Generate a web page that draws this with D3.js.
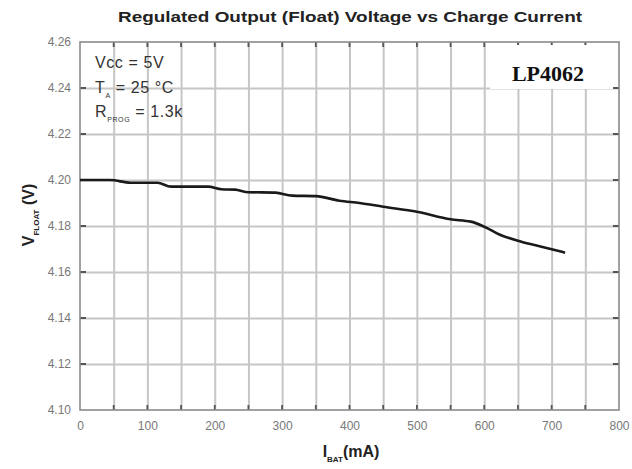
<!doctype html>
<html>
<head>
  <meta charset="utf-8">
  <title>Float Voltage vs Charge Current</title>
  <script src="https://d3js.org/d3.v7.min.js"></script>
  <style>
    body { margin: 0; background: #fff; }
    text { font-family: Arial, "Liberation Sans", sans-serif; }
  </style>
</head>
<body>
  <div id="chart"></div>
  <script>
    // charge current (mA) and float voltage (V)
    var current = [0, 45, 75, 115, 135, 190, 210, 230, 250, 290, 315, 350, 385, 415, 450, 500, 550, 580, 600, 625, 655, 685, 720];
    var vfloat = [4.200, 4.200, 4.1988, 4.1988, 4.1971, 4.1971, 4.1960, 4.1958, 4.1947, 4.1945, 4.1932, 4.1930, 4.1910, 4.1900, 4.1884, 4.1862, 4.1829, 4.1819, 4.1797, 4.1760, 4.1732, 4.1710, 4.1684];
    var xTicks = [0, 100, 200, 300, 400, 500, 600, 700, 800];
    var xGrid = [50, 100, 150, 200, 250, 300, 350, 400, 450, 500, 550, 600, 650, 700, 750];
    var yTicks = [4.10, 4.12, 4.14, 4.16, 4.18, 4.20, 4.22, 4.24, 4.26];

    var W = 632, H = 469;
    var margin = { top: 42, right: 13, bottom: 59, left: 80 },
      width = W - margin.left - margin.right,
      height = H - margin.top - margin.bottom;

    var svg = d3.select("#chart")
      .append("svg")
      .attr("width", W)
      .attr("height", H);

    var g = svg.append("g")
      .attr("transform", "translate(" + margin.left + "," + margin.top + ")");

    var x = d3.scaleLinear().domain([0, 800]).range([0, width]);
    var y = d3.scaleLinear().domain([4.10, 4.26]).range([height, 0]);

    // grid via axes with full-length ticks
    var yInner = yTicks.slice(1, -1);
    var gx = g.append("g")
      .attr("class", "grid")
      .attr("transform", "translate(0," + height + ")")
      .call(d3.axisBottom(x).tickValues(xGrid).tickSize(-height).tickFormat(""));
    var gy = g.append("g")
      .attr("class", "grid")
      .call(d3.axisLeft(y).tickValues(yInner).tickSize(-width).tickFormat(""));
    [gx, gy].forEach(function (a) {
      a.select(".domain").remove();
      a.selectAll("line").attr("stroke", "#c6c6c6").attr("stroke-width", 2);
    });

    // small inward ticks on all four sides
    var ticks = d3.path();
    xGrid.forEach(function (d) {
      ticks.moveTo(x(d), height); ticks.lineTo(x(d), height - 5);
      ticks.moveTo(x(d), 0); ticks.lineTo(x(d), 5);
    });
    yInner.forEach(function (d) {
      ticks.moveTo(0, y(d)); ticks.lineTo(6, y(d));
      ticks.moveTo(width, y(d)); ticks.lineTo(width - 6, y(d));
    });
    g.append("path")
      .attr("d", ticks.toString())
      .attr("fill", "none")
      .attr("stroke", "#555")
      .attr("stroke-width", 1.8);

    // tick labels via axes
    var xAxis = g.append("g")
      .attr("transform", "translate(0," + height + ")")
      .call(d3.axisBottom(x).tickValues(xTicks).tickSize(0).tickPadding(9));
    var yAxis = g.append("g")
      .call(d3.axisLeft(y).tickValues(yTicks).tickSize(0).tickPadding(9)
        .tickFormat(d3.format(".2f")));

    [xAxis, yAxis].forEach(function (a) {
      a.select(".domain").remove();
      a.selectAll("line").remove();
      a.selectAll("text").attr("fill", "#777").style("font-size", "12px");
    });
    xAxis.selectAll("text").attr("dy", "0.9em");

    // frame
    g.append("rect")
      .attr("x", 0).attr("y", 0)
      .attr("width", width).attr("height", height)
      .attr("fill", "none").attr("stroke", "#8a8a8a").attr("stroke-width", 1.6);

    // curve
    g.append("path")
      .datum(d3.zip(current, vfloat))
      .attr("fill", "none")
      .attr("stroke", "#1a1a1a")
      .attr("stroke-width", 2.6)
      .attr("stroke-linejoin", "round")
      .attr("d", d3.line()
        .curve(d3.curveMonotoneX)
        .x(function (d) { return x(d[0]); })
        .y(function (d) { return y(d[1]); }));

    // LP4062 label on white patch
    g.append("rect")
      .attr("x", 410).attr("y", 3)
      .attr("width", 123).attr("height", 44)
      .attr("fill", "#fff");
    g.append("text")
      .attr("x", 468).attr("y", 39)
      .attr("text-anchor", "middle")
      .style("font-family", "'Liberation Serif', 'Times New Roman', serif")
      .style("font-weight", "bold")
      .style("font-size", "22px")
      .attr("fill", "#111")
      .text("LP4062");

    // conditions
    var cond = g.append("g").attr("fill", "#333").style("font-size", "16px")
      .style("letter-spacing", "0.6px");
    cond.append("text").attr("x", 15).attr("y", 26).text("Vcc = 5V");
    var t = cond.append("text").attr("x", 15).attr("y", 51);
    t.append("tspan").text("T");
    t.append("tspan").attr("dy", 5).style("font-size", "7px").text("A");
    t.append("tspan").attr("dy", -5).text(" = 25 \u00B0C");
    var r = cond.append("text").attr("x", 15).attr("y", 75);
    r.append("tspan").text("R");
    r.append("tspan").attr("dy", 5).style("font-size", "7px").text("PROG");
    r.append("tspan").attr("dy", -5).text(" = 1.3k");

    // title
    svg.append("text")
      .attr("x", 350).attr("y", 22)
      .attr("text-anchor", "middle")
      .attr("textLength", 464)
      .attr("lengthAdjust", "spacingAndGlyphs")
      .style("font-weight", "bold").style("font-size", "15px")
      .attr("fill", "#222")
      .text("Regulated Output (Float) Voltage vs Charge Current");

    // x label
    var xl = svg.append("text")
      .attr("x", 351).attr("y", 457)
      .attr("text-anchor", "middle")
      .style("font-weight", "bold").style("font-size", "16px")
      .attr("fill", "#222");
    xl.append("tspan").text("I");
    xl.append("tspan").attr("dy", 5).style("font-size", "8px").text("BAT");
    xl.append("tspan").attr("dy", -5).text("(mA)");

    // y label
    var yl = svg.append("text")
      .attr("transform", "translate(34," + 215 + ") rotate(-90)")
      .attr("text-anchor", "middle")
      .style("font-weight", "bold").style("font-size", "16px")
      .attr("fill", "#222");
    yl.append("tspan").text("V");
    yl.append("tspan").attr("dy", 5).style("font-size", "8px").text("FLOAT");
    yl.append("tspan").attr("dy", -5).text(" (V)");
  </script>
</body>
</html>
